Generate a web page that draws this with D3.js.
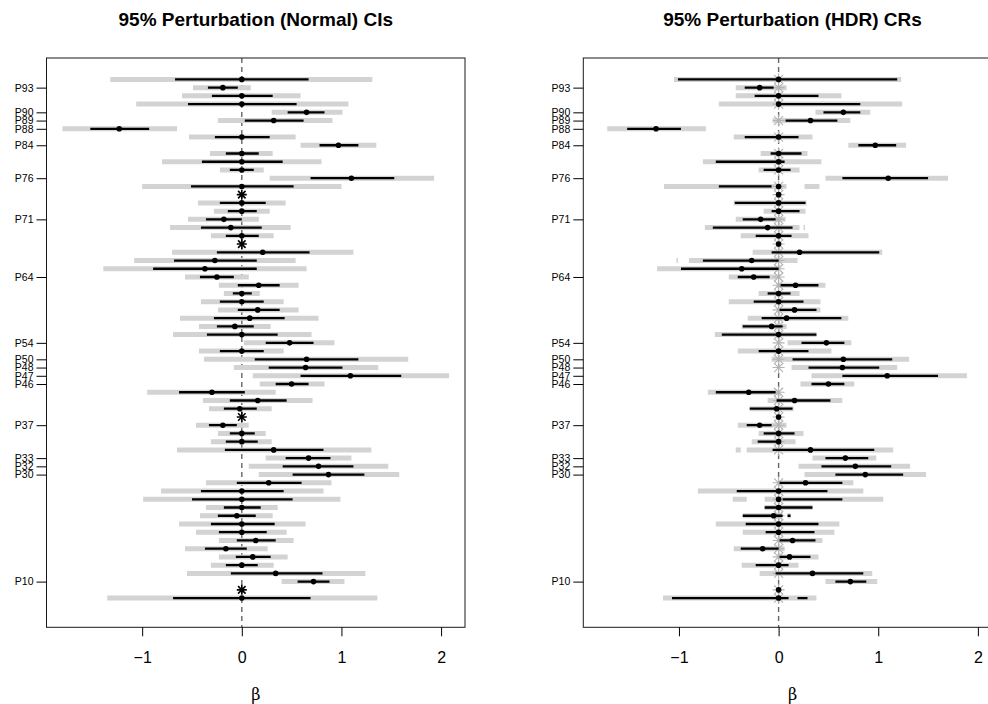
<!DOCTYPE html>
<html>
<head>
<meta charset="utf-8">
<script src="https://cdn.jsdelivr.net/npm/d3@7"></script>
<style>
  body { margin: 0; background: #fff; }
  svg { display: block; font-family: "Liberation Sans", Arial, Helvetica, sans-serif; }
</style>
</head>
<body>
<div id="chart"></div>
<script>
(function() {

  // ---- data (rows listed from top to bottom) ----
  var rowLabels = ["", "P93", "", "", "P90", "P89", "P88", "", "P84", "", "", "", "P76", "", "", "", "",
    "P71", "", "", "", "", "", "", "P64", "", "", "", "", "", "", "", "P54", "", "P50", "P48", "P47", "P46",
    "", "", "", "", "P37", "", "", "", "P33", "P32", "P30", "", "", "", "", "", "", "", "", "", "", "", "", "P10", "", ""];

  var estimate = [0, -0.19, 0, 0, 0.65, 0.32, -1.23, 0, 0.97, 0, 0, 0, 1.10, 0, 0, 0, 0, -0.18, -0.11, 0,
    0, 0.21, -0.27, -0.37, -0.25, 0.17, 0, 0, 0.16, 0.08, -0.07, 0, 0.48, 0, 0.65, 0.64, 1.09, 0.50, -0.30,
    0.16, -0.02, 0, -0.19, 0, 0, 0.32, 0.67, 0.77, 0.87, 0.27, 0, 0, 0, -0.05, 0, 0, 0.14, -0.16, 0.11, 0,
    0.34, 0.72, 0, 0];

  // rows with no spread at all (drawn as asterisks in the normal panel)
  var fixedRows = [15, 21, 42, 63];

  // normal CIs: inner (black) and 95% (grey)
  var innerLo = [-0.67, -0.34, -0.30, -0.54, 0.46, 0.03, -1.52, -0.27, 0.78, -0.16, -0.40, -0.12, 0.69, -0.51, null, -0.22, -0.14, -0.36, -0.41, -0.16,
    null, -0.25, -0.68, -0.89, -0.42, -0.04, -0.09, -0.22, -0.04, -0.28, -0.25, -0.35, 0.24, -0.22, 0.13, 0.27, 0.59, 0.34, -0.63,
    -0.12, -0.18, null, -0.33, -0.12, -0.16, -0.17, 0.44, 0.41, 0.51, -0.05, -0.41, -0.50, -0.18, -0.24, -0.31, -0.23, -0.05, -0.37, -0.06, -0.16,
    -0.11, 0.56, null, -0.69];
  var innerHi = [0.67, -0.04, 0.31, 0.55, 0.83, 0.62, -0.93, 0.28, 1.17, 0.17, 0.41, 0.12, 1.53, 0.52, null, 0.24, 0.15, 0.00, 0.20, 0.17,
    null, 0.68, 0.15, 0.15, -0.08, 0.38, 0.10, 0.22, 0.38, 0.43, 0.12, 0.36, 0.72, 0.22, 1.17, 1.01, 1.60, 0.67, 0.03,
    0.45, 0.15, null, -0.05, 0.13, 0.16, 0.82, 0.89, 1.12, 1.23, 0.60, 0.42, 0.51, 0.19, 0.14, 0.33, 0.25, 0.34, 0.05, 0.29, 0.16,
    0.81, 0.88, null, 0.69];
  var outerLo = [-1.32, -0.49, -0.60, -1.06, 0.30, -0.24, -1.80, -0.53, 0.59, -0.32, -0.80, -0.22, 0.28, -1.00, null, -0.44, -0.28, -0.54, -0.72, -0.31,
    null, -0.70, -1.08, -1.39, -0.57, -0.23, -0.18, -0.41, -0.24, -0.62, -0.43, -0.69, 0.02, -0.43, -0.38, -0.08, 0.11, 0.18, -0.95,
    -0.39, -0.33, null, -0.46, -0.24, -0.31, -0.65, 0.24, 0.07, 0.17, -0.36, -0.81, -0.99, -0.36, -0.42, -0.63, -0.46, -0.23, -0.57, -0.23, -0.31,
    -0.55, 0.40, null, -1.35];
  var outerHi = [1.31, 0.09, 0.59, 1.07, 1.01, 0.91, -0.65, 0.54, 1.35, 0.31, 0.80, 0.22, 1.93, 1.00, null, 0.44, 0.28, 0.17, 0.49, 0.32,
    null, 1.12, 0.54, 0.65, 0.07, 0.57, 0.18, 0.42, 0.57, 0.77, 0.29, 0.70, 0.93, 0.42, 1.67, 1.37, 2.08, 0.83, 0.34,
    0.71, 0.30, null, 0.07, 0.24, 0.30, 1.30, 1.10, 1.47, 1.58, 0.90, 0.82, 0.99, 0.36, 0.31, 0.64, 0.45, 0.52, 0.26, 0.46, 0.32,
    1.24, 1.03, null, 1.36];

  // HDR regions: each row a list of [lo, hi] pieces
  var hdrOuter = [
    [[-1.05, 1.23]], [[-0.43, 0.08]], [[-0.43, 0.63]], [[-0.60, 1.24]], [[0.37, 0.92]], [[-0.06, 0.72]],
    [[-1.72, -0.73]], [[-0.45, 0.34]], [[0.70, 1.28]], [[-0.18, 0.29]], [[-0.76, 0.43]], [[-0.20, 0.21]],
    [[0.47, 1.70]], [[-1.15, 0.08], [0.26, 0.41]], [], [[-0.45, 0.28]], [[-0.15, 0.27]], [[-0.43, 0.07]],
    [[-0.74, 0.21], [0.25, 0.265]], [[-0.38, 0.30]], [], [[-0.26, 1.04]], [[-1.025, -1.01], [-0.90, 0.19]],
    [[-1.22, 0]], [[-0.50, -0.02]], [[-0.02, 0.47]], [[-0.20, 0.21]], [[-0.50, 0.42]], [[-0.02, 0.42]],
    [[-0.31, 0.70]], [[-0.37, 0.08]], [[-0.64, 0.38]], [[0.09, 0.73]], [[-0.41, 0.53]], [[-0.07, 1.31]],
    [[0.13, 1.19]], [[0.33, 1.89]], [[0.22, 0.76]], [[-0.71, 0]], [[-0.11, 0.64]], [[-0.29, 0.15]], [],
    [[-0.41, 0.08]], [[-0.20, 0.25]], [[-0.27, 0.17]], [[-0.43, -0.38], [-0.32, 1.15]], [[0.34, 0.98]],
    [[0.20, 1.32]], [[0.26, 1.48]], [[0, 0.75]], [[-0.81, 0.85]], [[-0.46, -0.32], [-0.14, 1.05]],
    [[-0.14, 0.34]], [[-0.36, 0.04], [0.09, 0.12]], [[-0.63, 0.61]], [[-0.36, 0.56]], [[0, 0.44]],
    [[-0.45, 0.06]], [[0, 0.40]], [[-0.37, 0.20]], [[-0.19, 0.94]], [[0.47, 0.99]], [], [[-1.16, 0.38]]
  ];
  var hdrInner = [
    [[-1.01, 1.19]], [[-0.34, -0.05]], [[-0.24, 0.40]], [[0, 0.82]], [[0.45, 0.82]], [[0.07, 0.59]],
    [[-1.52, -0.98]], [[-0.34, 0.20]], [[0.80, 1.18]], [[-0.08, 0.23]], [[-0.63, 0.06]], [[-0.15, 0.12]],
    [[0.64, 1.50]], [[-0.60, -0.07]], [], [[-0.44, 0.27]], [[-0.07, 0.21]], [[-0.36, -0.03]],
    [[-0.66, 0.14]], [[-0.23, 0.13]], [], [[-0.07, 1.01]], [[-0.76, 0]],
    [[-0.98, 0]], [[-0.41, -0.09]], [[0.02, 0.40]], [[-0.11, 0.12]], [[-0.25, 0.25]], [[0.01, 0.38]],
    [[-0.17, 0.63]], [[-0.36, 0.04]], [[-0.57, 0.38]], [[0.23, 0.66]], [[-0.20, 0.30]], [[0.14, 1.14]],
    [[0.30, 1.01]], [[0.64, 1.60]], [[0.33, 0.66]], [[-0.63, -0.03]], [[-0.02, 0.52]], [[-0.29, 0.14]], [],
    [[-0.32, -0.07]], [[-0.15, 0.16]], [[-0.21, 0]], [[-0.06, 0.96]], [[0.47, 0.90]],
    [[0.43, 1.13]], [[0.57, 1.25]], [[0.01, 0.64]], [[-0.42, 0.49]], [[0.04, 0.64]],
    [[-0.14, 0.34]], [[-0.36, 0.04], [0.09, 0.12]], [[-0.33, 0.40]], [[-0.13, 0.36]], [[0.01, 0.37]],
    [[-0.38, 0]], [[0.01, 0.32]], [[-0.23, 0.10]], [[-0.03, 0.85]], [[0.57, 0.88]], [], [[-1.07, 0.10], [0.19, 0.29]]
  ];
  // HDR rows with mass at zero (grey asterisk at 0)
  var hdrSpike = [1, 1, 1, 1, 0, 1, 0, 1, 0, 1, 1, 1, 0, 1, 1, 1, 1, 1, 1, 1,
    1, 1, 1, 1, 1, 1, 1, 1, 1, 1, 1, 1, 1, 1, 1, 1, 0, 0, 1,
    1, 1, 1, 1, 1, 1, 1, 0, 0, 0, 1, 1, 1, 1, 1, 1, 1, 1, 1, 1, 1,
    1, 0, 1, 1];

  var xTicks = [-1, 0, 1, 2];
  var titles = ["95% Perturbation (Normal) CIs", "95% Perturbation (HDR) CRs"];

  // ---- layout ----
  var width = 988, height = 704,
      plotTop = 58, plotBottom = 627.3,
      plotW = 418.5,
      panelLeft = [46.5, 583.3];

  var svg = d3.select("#chart").append("svg")
      .attr("width", width)
      .attr("height", height);

  svg.append("rect").attr("width", width).attr("height", height).attr("fill", "#fff");

  var rows = d3.range(estimate.length).map(function(i) {
    return { i: i + 1, est: estimate[i], label: rowLabels[i] };
  });

  var y = d3.scaleLinear()
      .domain([-1.6, 67.55])
      .range([plotTop, plotBottom]);

  function star(g, cx, cy, r, color, w) {
    var d = r * 0.75;
    var path = "M" + (cx - r) + "," + cy + "H" + (cx + r) +
        "M" + cx + "," + (cy - r) + "V" + (cy + r) +
        "M" + (cx - d) + "," + (cy - d) + "L" + (cx + d) + "," + (cy + d) +
        "M" + (cx - d) + "," + (cy + d) + "L" + (cx + d) + "," + (cy - d);
    g.append("path").attr("d", path).attr("stroke", color).attr("stroke-width", w).attr("fill", "none");
  }

  panelLeft.forEach(function(left, p) {
    var x = d3.scaleLinear()
        .domain([-1.96, 2.24])
        .range([left, left + plotW]);

    var clipId = "clip" + p;
    svg.append("clipPath").attr("id", clipId)
      .append("rect")
        .attr("x", left).attr("y", plotTop)
        .attr("width", plotW).attr("height", plotBottom - plotTop);

    var g = svg.append("g").attr("clip-path", "url(#" + clipId + ")");

    // zero reference
    g.append("line")
        .attr("x1", x(0)).attr("x2", x(0))
        .attr("y1", plotTop).attr("y2", plotBottom)
        .attr("stroke", "#666")
        .attr("stroke-width", 1.4)
        .attr("stroke-dasharray", "5,4");

    if (p === 0) {
      g.selectAll(".outer").data(rows.filter(function(d) { return outerLo[d.i - 1] !== null; }))
        .enter().append("line")
          .attr("x1", function(d) { return x(outerLo[d.i - 1]); })
          .attr("x2", function(d) { return x(outerHi[d.i - 1]); })
          .attr("y1", function(d) { return y(d.i); })
          .attr("y2", function(d) { return y(d.i); })
          .attr("stroke", "#d3d3d3").attr("stroke-width", 5);

      g.selectAll(".inner").data(rows.filter(function(d) { return innerLo[d.i - 1] !== null; }))
        .enter().append("line")
          .attr("x1", function(d) { return x(innerLo[d.i - 1]); })
          .attr("x2", function(d) { return x(innerHi[d.i - 1]); })
          .attr("y1", function(d) { return y(d.i); })
          .attr("y2", function(d) { return y(d.i); })
          .attr("stroke", "#000").attr("stroke-width", 2.3);

      g.selectAll(".pt").data(rows.filter(function(d) { return fixedRows.indexOf(d.i) < 0; }))
        .enter().append("circle")
          .attr("cx", function(d) { return x(d.est); })
          .attr("cy", function(d) { return y(d.i); })
          .attr("r", 2.8);

      fixedRows.forEach(function(r) {
        star(g, x(estimate[r - 1]), y(r), 5, "#000", 1.6);
      });
    } else {
      rows.forEach(function(d) {
        hdrOuter[d.i - 1].forEach(function(s) {
          g.append("line")
              .attr("x1", x(s[0])).attr("x2", x(s[1]))
              .attr("y1", y(d.i)).attr("y2", y(d.i))
              .attr("stroke", "#d3d3d3").attr("stroke-width", 5);
        });
      });
      rows.forEach(function(d) {
        if (hdrSpike[d.i - 1]) star(g, x(0), y(d.i), 6, "#b4b4b4", 1.1);
      });
      rows.forEach(function(d) {
        hdrInner[d.i - 1].forEach(function(s) {
          g.append("line")
              .attr("x1", x(s[0])).attr("x2", x(s[1]))
              .attr("y1", y(d.i)).attr("y2", y(d.i))
              .attr("stroke", "#000").attr("stroke-width", 2.3);
        });
      });
      g.selectAll(".pt").data(rows)
        .enter().append("circle")
          .attr("cx", function(d) { return x(d.est); })
          .attr("cy", function(d) { return y(d.i); })
          .attr("r", 2.8);
    }

    // box
    svg.append("rect")
        .attr("x", left).attr("y", plotTop)
        .attr("width", plotW).attr("height", plotBottom - plotTop)
        .attr("fill", "none").attr("stroke", "#1a1a1a").attr("stroke-width", 1);

    // x axis
    var xa = svg.append("g")
        .attr("transform", "translate(0," + plotBottom + ")")
        .call(d3.axisBottom(x).tickValues(xTicks).tickFormat(d3.format("d"))
          .tickSize(9).tickPadding(15));
    xa.select(".domain").remove();
    xa.selectAll("text").attr("font-size", 16).attr("fill", "#000")
        .attr("font-family", "'Liberation Sans', Arial, sans-serif");
    xa.selectAll("line").attr("stroke", "#000");

    // y axis (labelled parameters only)
    var ya = svg.append("g")
        .attr("transform", "translate(" + left + ",0)")
        .call(d3.axisLeft(y)
          .tickValues(rows.filter(function(d) { return d.label; }).map(function(d) { return d.i; }))
          .tickFormat(function(v) { return rowLabels[v - 1]; })
          .tickSize(10).tickPadding(3));
    ya.select(".domain").remove();
    ya.selectAll("text").attr("font-size", 10.5).attr("fill", "#000")
        .attr("font-family", "'Liberation Sans', Arial, sans-serif");
    ya.selectAll("line").attr("stroke", "#000");

    svg.append("text")
        .attr("x", left + plotW / 2).attr("y", 26)
        .attr("text-anchor", "middle")
        .attr("font-weight", "bold")
        .attr("font-size", 19)
        .text(titles[p]);

    svg.append("text")
        .attr("x", left + plotW / 2).attr("y", 700)
        .attr("text-anchor", "middle")
        .attr("font-family", "'DejaVu Serif', 'Liberation Serif', serif")
        .attr("font-size", 16)
        .text("β");
  });

})()
</script>
</body>
</html>
